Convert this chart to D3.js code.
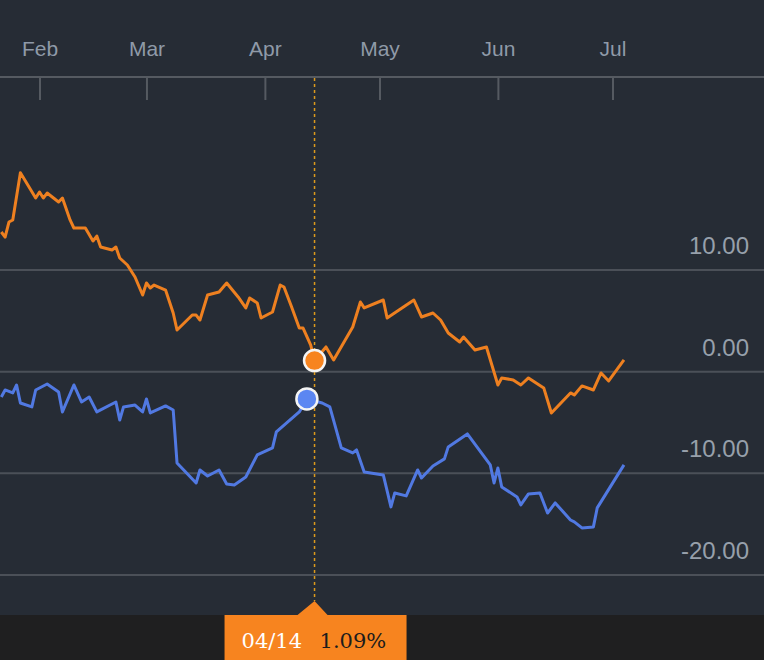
<!DOCTYPE html>
<html>
<head>
<meta charset="utf-8">
<script src="https://cdn.jsdelivr.net/npm/d3@7"></script>
<style>
  html, body { margin: 0; padding: 0; background: #262c35; }
  svg { display: block; }
  .grid line { stroke: #4b5058; stroke-width: 2; }
  .ylabel { fill: #97a0ab; font: 24px "Liberation Sans", Arial, sans-serif; text-anchor: end; }
  .xaxis text { fill: #8f9aa8; font: 21px "Liberation Sans", Arial, sans-serif; }
  .xaxis line, .xaxis path { stroke: #555a61; stroke-width: 2; }
</style>
</head>
<body>
<svg id="chart" width="764" height="660"></svg>
<script>
// series: [date, % change]
const orangeSeries = [
  ["2015-01-22", 13.74], ["2015-01-23", 13.24], ["2015-01-24", 14.72], ["2015-01-25", 14.92],
  ["2015-01-27", 19.57], ["2015-01-31", 17.08], ["2015-02-01", 17.67], ["2015-02-02", 17.08],
  ["2015-02-03", 17.57], ["2015-02-06", 16.69], ["2015-02-07", 17.08], ["2015-02-09", 14.92],
  ["2015-02-10", 14.13], ["2015-02-13", 14.13], ["2015-02-15", 12.85], ["2015-02-16", 13.34],
  ["2015-02-17", 12.26], ["2015-02-20", 11.97], ["2015-02-21", 12.26], ["2015-02-22", 11.18],
  ["2015-02-24", 10.49], ["2015-02-26", 9.31], ["2015-02-28", 7.54], ["2015-03-01", 8.72],
  ["2015-03-02", 8.23], ["2015-03-03", 8.52], ["2015-03-06", 8.03], ["2015-03-08", 5.77],
  ["2015-03-09", 4.10], ["2015-03-13", 5.57], ["2015-03-14", 5.57], ["2015-03-15", 5.08],
  ["2015-03-17", 7.54], ["2015-03-20", 7.84], ["2015-03-22", 8.72], ["2015-03-25", 7.35],
  ["2015-03-27", 6.27], ["2015-03-28", 7.25], ["2015-03-30", 6.76], ["2015-03-31", 5.28],
  ["2015-04-03", 5.87], ["2015-04-05", 8.52], ["2015-04-06", 8.33], ["2015-04-08", 6.36],
  ["2015-04-10", 4.29], ["2015-04-11", 4.29], ["2015-04-13", 2.62], ["2015-04-14", 1.09],
  ["2015-04-17", 2.43], ["2015-04-19", 1.15], ["2015-04-24", 4.39], ["2015-04-26", 6.85],
  ["2015-04-27", 6.27], ["2015-05-02", 7.05], ["2015-05-03", 5.28], ["2015-05-10", 7.05],
  ["2015-05-12", 5.38], ["2015-05-15", 5.77], ["2015-05-17", 5.08], ["2015-05-19", 3.80],
  ["2015-05-22", 2.92], ["2015-05-23", 3.41], ["2015-05-26", 2.13], ["2015-05-29", 2.43],
  ["2015-06-01", -1.31], ["2015-06-02", -0.62], ["2015-06-05", -0.81], ["2015-06-07", -1.31],
  ["2015-06-09", -0.62], ["2015-06-13", -1.60], ["2015-06-15", -4.06], ["2015-06-20", -2.09],
  ["2015-06-21", -2.29], ["2015-06-23", -1.40], ["2015-06-26", -1.80], ["2015-06-28", -0.13],
  ["2015-06-30", -0.91], ["2015-07-04", 1.15]
];

const blueSeries = [
  ["2015-01-22", -2.49], ["2015-01-23", -1.80], ["2015-01-25", -2.09], ["2015-01-26", -1.31],
  ["2015-01-27", -3.08], ["2015-01-30", -3.47], ["2015-01-31", -1.80], ["2015-02-03", -1.21],
  ["2015-02-06", -2.00], ["2015-02-07", -3.96], ["2015-02-10", -1.31], ["2015-02-12", -2.98],
  ["2015-02-14", -2.49], ["2015-02-16", -3.96], ["2015-02-21", -2.98], ["2015-02-22", -4.75],
  ["2015-02-23", -3.47], ["2015-02-26", -3.28], ["2015-02-28", -3.96], ["2015-03-01", -2.68],
  ["2015-03-02", -4.06], ["2015-03-06", -3.37], ["2015-03-08", -3.77], ["2015-03-09", -8.98],
  ["2015-03-14", -10.95], ["2015-03-15", -9.67], ["2015-03-17", -10.26], ["2015-03-20", -9.67],
  ["2015-03-22", -11.04], ["2015-03-24", -11.14], ["2015-03-27", -10.36], ["2015-03-30", -8.19],
  ["2015-04-03", -7.50], ["2015-04-04", -5.93], ["2015-04-10", -3.96], ["2015-04-12", -2.68],
  ["2015-04-16", -3.08], ["2015-04-18", -3.47], ["2015-04-21", -7.50], ["2015-04-24", -7.99],
  ["2015-04-25", -7.70], ["2015-04-27", -9.86], ["2015-05-02", -10.16], ["2015-05-04", -13.30],
  ["2015-05-05", -11.93], ["2015-05-08", -12.22], ["2015-05-11", -9.67], ["2015-05-12", -10.46],
  ["2015-05-15", -9.27], ["2015-05-18", -8.58], ["2015-05-19", -7.40], ["2015-05-24", -6.12],
  ["2015-05-30", -9.17], ["2015-05-31", -10.95], ["2015-06-01", -9.47], ["2015-06-02", -11.34],
  ["2015-06-06", -12.32], ["2015-06-07", -13.11], ["2015-06-09", -12.03], ["2015-06-12", -11.93],
  ["2015-06-14", -13.90], ["2015-06-16", -12.91], ["2015-06-20", -14.59], ["2015-06-21", -14.78],
  ["2015-06-23", -15.37], ["2015-06-26", -15.27], ["2015-06-27", -13.40], ["2015-07-04", -9.17]
];

const yTicks = [10, 0, -10, -20];
const hoverDate = "2015-04-14";
const hoverLabel = "04/14";
const hoverValue = "1.09%";
// marker positions as drawn in the picture
const markers = [
  {date: "2015-04-14", value: 1.09, fill: "#f7841f"},
  {date: "2015-04-12", value: -2.68, fill: "#5b86f2"}
];

const W = 764, H = 660;
const plotTop = 78, plotBottom = 615;
const parse = d3.timeParse("%Y-%m-%d");

const x = d3.scaleTime()
    .domain([parse("2015-02-01"), parse("2015-07-01")])
    .range([39.5, 612.5]);
const y = d3.scaleLinear()
    .domain([-20, 10])
    .range([575, 270]);

const svg = d3.select("#chart");

svg.append("rect").attr("width", W).attr("height", H).attr("fill", "#262c35");
svg.append("rect").attr("y", plotBottom).attr("width", W).attr("height", H - plotBottom).attr("fill", "#1f1f20");

svg.append("clipPath").attr("id", "plot-clip")
  .append("rect").attr("x", 0).attr("y", plotTop).attr("width", W).attr("height", plotBottom - plotTop);

// horizontal grid
let grid = svg.append("g").attr("class", "grid");
grid.selectAll("line").data(yTicks).join("line")
    .attr("x1", 0).attr("x2", W)
    .attr("y1", d => y(d)).attr("y2", d => y(d));

svg.append("g").selectAll("text").data(yTicks).join("text")
    .attr("class", "ylabel")
    .attr("x", 749)
    .attr("y", d => y(d) - 16)
    .text(d => d.toFixed(2));

// month axis at top
let xAxis = svg.append("g").attr("class", "xaxis")
    .attr("transform", `translate(0, ${plotTop - 1})`)
    .call(d3.axisBottom(x).ticks(d3.timeMonth.every(1)).tickFormat(d3.timeFormat("%b")).tickSize(23).tickPadding(0));
xAxis.select(".domain").remove();
xAxis.selectAll("text").attr("y", -21).attr("dy", 0);
svg.append("line")
    .attr("x1", 0).attr("x2", W).attr("y1", plotTop - 1).attr("y2", plotTop - 1)
    .attr("stroke", "#555a61").attr("stroke-width", 2);

// crosshair
let hx = x(parse(hoverDate));
svg.append("line")
    .attr("x1", hx).attr("x2", hx).attr("y1", plotTop).attr("y2", 601)
    .attr("stroke", "#dc9a1c").attr("stroke-width", 1.5).attr("stroke-dasharray", "3,3");

// series
let line = d3.line()
    .x(d => x(parse(d[0])))
    .y(d => y(d[1]));

let lines = svg.append("g").attr("clip-path", "url(#plot-clip)");
lines.append("path").datum(blueSeries)
    .attr("d", line).attr("fill", "none")
    .attr("stroke", "#5179e2").attr("stroke-width", 3).attr("stroke-linejoin", "round");
lines.append("path").datum(orangeSeries)
    .attr("d", line).attr("fill", "none")
    .attr("stroke", "#ee8020").attr("stroke-width", 3).attr("stroke-linejoin", "round");

svg.append("g").selectAll("circle").data(markers).join("circle")
    .attr("cx", d => x(parse(d.date)))
    .attr("cy", d => y(d.value))
    .attr("r", 10.5)
    .attr("fill", d => d.fill)
    .attr("stroke", "#f4f4f4").attr("stroke-width", 2.5);

// tooltip at the bottom
let tip = svg.append("g").attr("transform", `translate(${hx}, ${plotBottom})`);
tip.append("path")
    .attr("d", "M-90,0 L-17,0 L0,-14 L13,0 L92,0 L92,50 L-90,50 Z")
    .attr("fill", "#f7841f");
tip.append("text")
    .attr("x", -73).attr("y", 33)
    .attr("fill", "#ffffff")
    .style("font", "21px 'DejaVu Serif', serif")
    .text(hoverLabel);
tip.append("text")
    .attr("x", 5).attr("y", 33)
    .attr("fill", "#1c1c1c")
    .style("font", "21px 'DejaVu Serif', serif")
    .text(hoverValue);
</script>
</body>
</html>
